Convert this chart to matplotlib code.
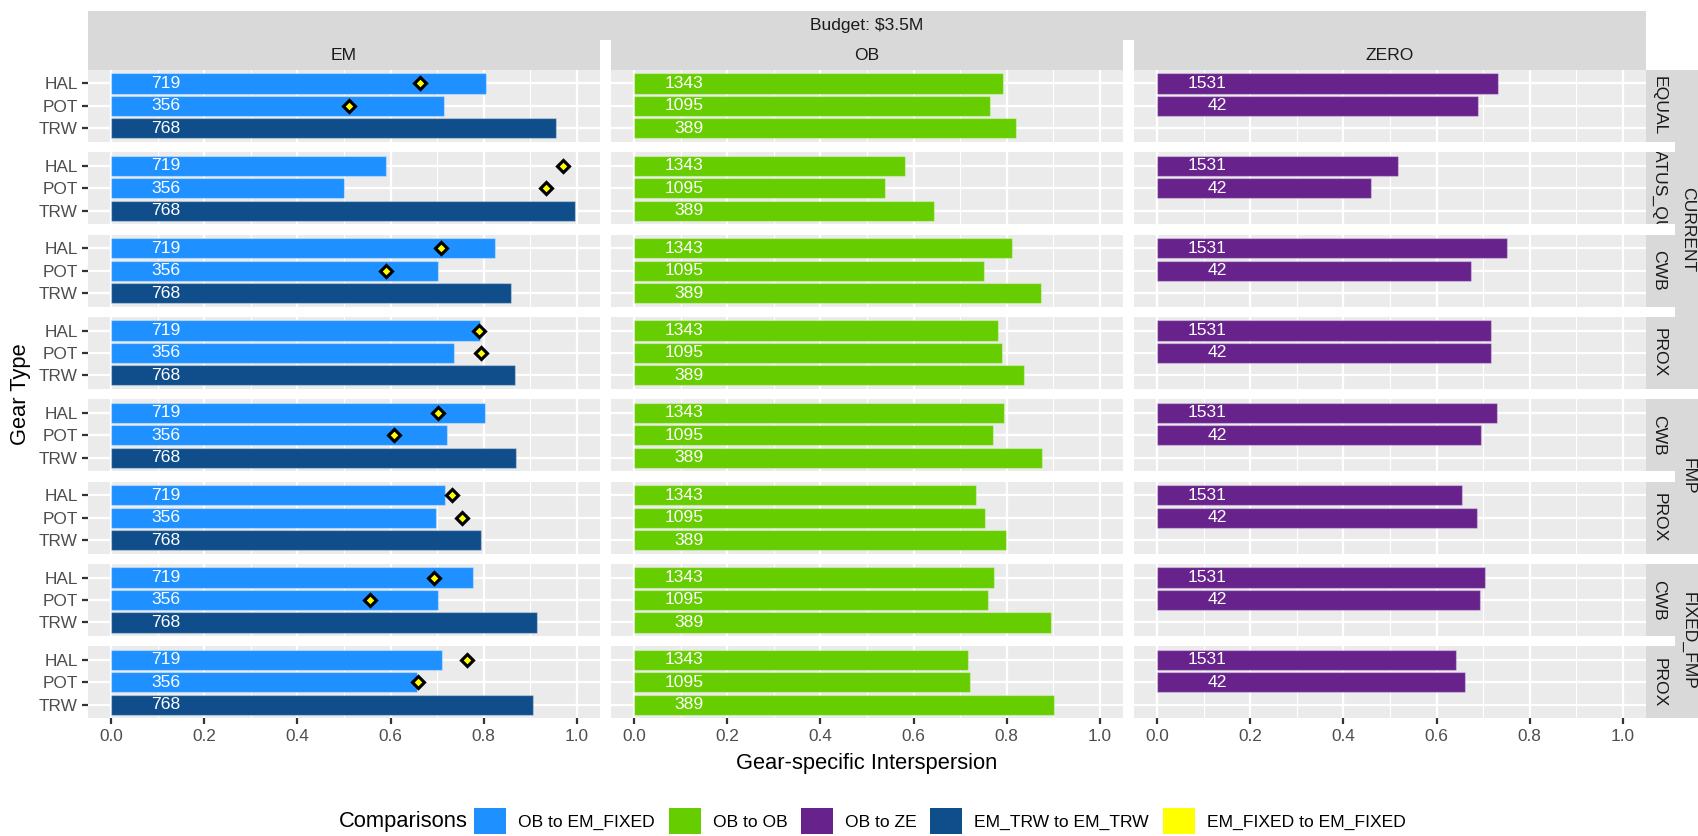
import matplotlib
matplotlib.use("Agg")
import matplotlib.pyplot as plt
from matplotlib.patches import Rectangle, Patch
from matplotlib.transforms import Bbox, TransformedBbox

plt.rcParams['font.family'] = ['Liberation Sans', 'DejaVu Sans']

# ---------------- data ----------------
gear_types = ["HAL", "POT", "TRW"]
columns = ["EM", "OB", "ZERO"]
method_labels = ["EQUAL", "STATUS_QUO", "CWB", "PROX", "CWB", "PROX", "CWB", "PROX"]
group_labels = ["CURRENT", "FMP", "FIXED_FMP"]
group_sizes = [4, 2, 2]
budget_label = "Budget: $3.5M"

em_hal = [0.805, 0.591, 0.824, 0.793, 0.802, 0.718, 0.778, 0.711]
em_pot = [0.715, 0.499, 0.701, 0.737, 0.721, 0.698, 0.703, 0.656]
em_trw = [0.956, 0.996, 0.859, 0.867, 0.869, 0.794, 0.915, 0.905]
em_fixed_hal = [0.663, 0.970, 0.709, 0.789, 0.701, 0.733, 0.693, 0.765]
em_fixed_pot = [0.511, 0.933, 0.591, 0.794, 0.607, 0.753, 0.556, 0.658]
ob_hal = [0.793, 0.582, 0.812, 0.782, 0.794, 0.734, 0.772, 0.716]
ob_pot = [0.765, 0.539, 0.752, 0.789, 0.771, 0.754, 0.761, 0.721]
ob_trw = [0.821, 0.644, 0.874, 0.838, 0.876, 0.799, 0.896, 0.902]
zero_hal = [0.731, 0.518, 0.751, 0.717, 0.729, 0.655, 0.705, 0.641]
zero_pot = [0.690, 0.460, 0.673, 0.716, 0.696, 0.686, 0.693, 0.661]

em_n = [719, 356, 768]
ob_n = [1343, 1095, 389]
zero_n = [1531, 42]

comparison_labels = ["OB to EM_FIXED", "OB to OB", "OB to ZE",
                     "EM_TRW to EM_TRW", "EM_FIXED to EM_FIXED"]
comparison_colors = ["#1E90FF", "#66CD00", "#68228B", "#104E8B", "#FFFF00"]

x_ticks = [0.0, 0.2, 0.4, 0.6, 0.8, 1.0]
x_minor = [0.1, 0.3, 0.5, 0.7, 0.9]

# ---------------- layout ----------------
W, H = 1698, 836
DPI = 150
fig = plt.figure(figsize=(W / DPI, H / DPI), dpi=DPI)

col_x = [(88, 600), (611, 1123), (1134, 1646)]
row_top0, row_h, row_step = 70, 71.8, 82.35
row_tops = [row_top0 + i * row_step for i in range(8)]

STRIP = "#D9D9D9"
STRIP_TXT = "#1A1A1A"
AX_TXT = "#4D4D4D"
FS_SMALL = 8.4
FS_TICK = 8.3
FS_TITLE = 10.5
FS_BAR = 8.4


def fx(x):
    return x / W


def fy(y):
    return 1 - y / H


def rect_px(x0, y0, x1, y1, color):
    r = Rectangle((fx(x0), fy(y1)), fx(x1) - fx(x0), fy(y0) - fy(y1),
                  transform=fig.transFigure, facecolor=color, edgecolor='none', zorder=0)
    fig.add_artist(r)
    return r


ypos = [3, 2, 1]

for r in range(8):
    for c in range(3):
        x0, x1 = col_x[c]
        top = row_tops[r]
        ax = fig.add_axes([fx(x0), fy(top + row_h), fx(x1) - fx(x0), row_h / H])
        ax.set_facecolor("#EBEBEB")
        for s in ax.spines.values():
            s.set_visible(False)
        ax.set_xlim(-0.05, 1.05)
        ax.set_ylim(0.4, 3.6)
        ax.set_xticks(x_ticks)
        ax.set_xticks(x_minor, minor=True)
        ax.set_yticks(ypos)
        ax.set_yticklabels(gear_types)
        ax.set_xticklabels([f"{v:.1f}" for v in x_ticks])
        ax.grid(which='major', color='white', linewidth=1.07)
        ax.grid(which='minor', axis='x', color='white', linewidth=0.53)
        ax.set_axisbelow(True)
        ax.tick_params(which='minor', length=0)
        ax.tick_params(which='major', length=2.75, width=1.07, color="#333333",
                       labelcolor=AX_TXT, labelsize=FS_TICK, pad=2.2)
        if c != 0:
            ax.tick_params(axis='y', left=False, labelleft=False)
        if r != 7:
            ax.tick_params(axis='x', bottom=False, labelbottom=False)

        if c == 0:
            vals = [em_hal[r], em_pot[r], em_trw[r]]
            cols = [comparison_colors[0], comparison_colors[0], comparison_colors[3]]
            ns = em_n
        elif c == 1:
            vals = [ob_hal[r], ob_pot[r], ob_trw[r]]
            cols = [comparison_colors[1]] * 3
            ns = ob_n
        else:
            vals = [zero_hal[r], zero_pot[r]]
            cols = [comparison_colors[2]] * 2
            ns = zero_n
        yp = ypos[:len(vals)]
        for yy, v, col in zip(yp, vals, cols):
            ax.barh(yy, v, height=0.9, color=col, edgecolor=(1, 1, 1, 0.35),
                    linewidth=0.6, zorder=2)
        for yy, n in zip(yp, ns):
            ax.text(0.149, yy, str(n), ha='right', va='center', color='white',
                    fontsize=FS_BAR, zorder=3)
        if c == 0:
            ax.plot([em_fixed_hal[r], em_fixed_pot[r]], [3, 2], linestyle='none',
                    marker='D', markersize=4.4, markerfacecolor=comparison_colors[4],
                    markeredgecolor='black', markeredgewidth=1.5, zorder=4)

# ---------------- strips ----------------
rect_px(col_x[0][0], 11, col_x[2][1], 40, STRIP)
fig.text(fx((col_x[0][0] + col_x[2][1]) / 2), fy(25.5), budget_label, ha='center',
         va='center', fontsize=FS_SMALL, color=STRIP_TXT)
for c, (x0, x1) in enumerate(col_x):
    rect_px(x0, 40, x1, 70, STRIP)
    fig.text(fx((x0 + x1) / 2), fy(55.5), columns[c], ha='center', va='center',
             fontsize=FS_SMALL, color=STRIP_TXT)

# inner row strips
ix0, ix1 = 1646, 1675
for r in range(8):
    top = row_tops[r]
    rect_px(ix0, top, ix1, top + row_h, STRIP)
    t = fig.text(fx(1659), fy(top + row_h / 2), method_labels[r],
                 ha='center', va='center', rotation=270, fontsize=FS_SMALL,
                 color=STRIP_TXT)
    bb = TransformedBbox(Bbox.from_extents(fx(ix0), fy(top + row_h), fx(ix1), fy(top)),
                         fig.transFigure)
    t.set_clip_box(bb)
    t.set_clip_on(True)

# outer group strips
ox0, ox1 = 1675, 1706
start = 0
for g, size in enumerate(group_sizes):
    top = row_tops[start]
    bot = row_tops[start + size - 1] + row_h
    rect_px(ox0, top, ox1, bot, STRIP)
    fig.text(fx(1688), fy((top + bot) / 2), group_labels[g], ha='center', va='center',
             rotation=270, fontsize=FS_SMALL, color=STRIP_TXT)
    start += size

# ---------------- axis titles ----------------
fig.text(fx((col_x[0][0] + col_x[2][1]) / 2), fy(763), "Gear-specific Interspersion",
         ha='center', va='center', fontsize=FS_TITLE, color='black')
fig.text(fx(21), fy((row_tops[0] + row_tops[-1] + row_h) / 2), "Gear Type",
         ha='center', va='center', rotation=90, fontsize=FS_TITLE, color='black')

# ---------------- legend ----------------
fig.text(fx(339), fy(821), "Comparisons", ha='left', va='center', fontsize=FS_TITLE,
         color='black')
handles = [Patch(facecolor=col, edgecolor='none') for col in comparison_colors]
fig.legend(handles, comparison_labels, ncol=5, loc='center left',
           bbox_to_anchor=(fx(474), fy(821)), frameon=False, fontsize=FS_SMALL,
           handlelength=1.83, handleheight=1.83, handletextpad=0.69,
           columnspacing=0.78, borderpad=0, borderaxespad=0)

fig.savefig("out.png", dpi=DPI)
